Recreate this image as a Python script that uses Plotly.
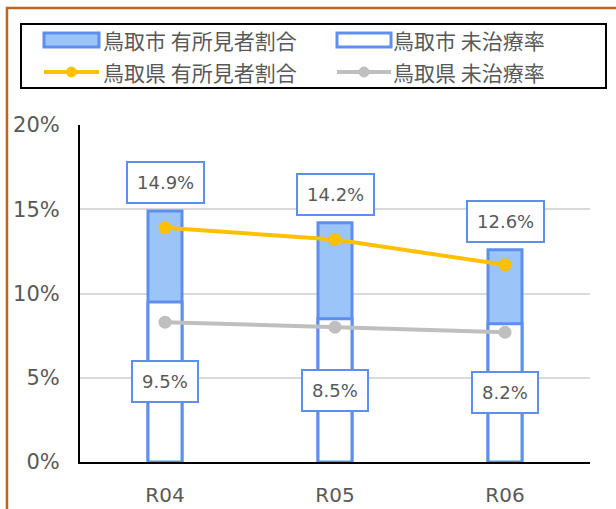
import plotly.graph_objects as go

# Data
years = ["R04", "R05", "R06"]
city_finding_rate = [14.9, 14.2, 12.6]      # 鳥取市 有所見者割合
city_untreated_rate = [9.5, 8.5, 8.2]       # 鳥取市 未治療率
pref_finding_rate = [13.9, 13.2, 11.7]      # 鳥取県 有所見者割合
pref_untreated_rate = [8.3, 8.0, 7.7]       # 鳥取県 未治療率
y_ticks = [0, 5, 10, 15, 20]
y_tick_labels = ["0%", "5%", "10%", "15%", "20%"]

legend_names = ["鳥取市 有所見者割合", "鳥取市 未治療率", "鳥取県 有所見者割合", "鳥取県 未治療率"]

FONT_JP = "Noto Sans CJK JP, Meiryo, sans-serif"
FONT_NUM = "DejaVu Sans, Verdana, sans-serif"
BLUE_EDGE = "#5E8FEE"
BLUE_FILL = "#9BC4F8"
ORANGE = "#FFC000"
GRAY = "#BFBFBF"
TEXT = "#595959"

W, H = 616, 509
L, R, T, B = 80, 26, 125, 47
PW, PH = W - L - R, H - T - B


def px(x):
    return (x - L) / PW


def py(y):
    return (H - B - y) / PH


fig = go.Figure()

fig.add_trace(go.Bar(
    x=years, y=city_finding_rate, name=legend_names[0], width=0.2,
    marker=dict(color=BLUE_FILL, line=dict(color=BLUE_EDGE, width=3)),
    showlegend=False, hoverinfo="skip",
))
fig.add_trace(go.Bar(
    x=years, y=city_untreated_rate, name=legend_names[1], width=0.2,
    marker=dict(color="white", line=dict(color=BLUE_EDGE, width=3)),
    showlegend=False, hoverinfo="skip",
))
fig.add_trace(go.Scatter(
    x=years, y=pref_finding_rate, name=legend_names[2], mode="lines+markers",
    line=dict(color=ORANGE, width=4), marker=dict(color=ORANGE, size=13),
    showlegend=False, hoverinfo="skip",
))
fig.add_trace(go.Scatter(
    x=years, y=pref_untreated_rate, name=legend_names[3], mode="lines+markers",
    line=dict(color=GRAY, width=4), marker=dict(color=GRAY, size=13),
    showlegend=False, hoverinfo="skip",
))

annotations = []
box_style = dict(
    showarrow=False, xref="x", yref="y",
    font=dict(family=FONT_NUM, size=18, color=TEXT),
    bgcolor="white", bordercolor=BLUE_EDGE, borderwidth=2, borderpad=9,
)
# value boxes above the filled bars
for yr, v in zip(years, city_finding_rate):
    annotations.append(dict(x=yr, y=v, text=f"{v:.1f}%",
                            yanchor="bottom", yshift=7, **box_style))
# value boxes centred in the untreated bars
for yr, v in zip(years, city_untreated_rate):
    annotations.append(dict(x=yr, y=v / 2, text=f"{v:.1f}%",
                            yanchor="middle", **box_style))

shapes = []
# outer frame
shapes.append(dict(type="rect", xref="paper", yref="paper",
                   x0=px(7), x1=px(W + 20), y0=py(8), y1=py(H + 20),
                   line=dict(color="#C0651E", width=2.5), layer="below"))
# legend box
shapes.append(dict(type="rect", xref="paper", yref="paper",
                   x0=px(21), x1=px(606), y0=py(24), y1=py(88),
                   line=dict(color="black", width=2), fillcolor="white"))

legend_rows = [40, 72]
legend_cols = [(44, 99, 101), (337, 391, 391)]
# bar symbols
for (x0, x1, xt), fill in zip(legend_cols, [BLUE_FILL, "white"]):
    yc = legend_rows[0]
    shapes.append(dict(type="rect", xref="paper", yref="paper",
                       x0=px(x0), x1=px(x1), y0=py(yc - 7), y1=py(yc + 7),
                       fillcolor=fill, line=dict(color=BLUE_EDGE, width=3)))
# line symbols
for (x0, x1, xt), col in zip(legend_cols, [ORANGE, GRAY]):
    yc = legend_rows[1]
    shapes.append(dict(type="line", xref="paper", yref="paper",
                       x0=px(x0), x1=px(x1), y0=py(yc), y1=py(yc),
                       line=dict(color=col, width=4)))
    xm = (x0 + x1) / 2
    shapes.append(dict(type="circle", xref="paper", yref="paper",
                       x0=px(xm - 5), x1=px(xm + 5), y0=py(yc - 5), y1=py(yc + 5),
                       fillcolor=col, line=dict(color=col, width=1)))

for i, name in enumerate(legend_names):
    row = i // 2
    col = i % 2
    annotations.append(dict(
        x=px(legend_cols[col][2]), y=py(legend_rows[row]), xref="paper", yref="paper",
        text=name, showarrow=False, xanchor="left", yanchor="middle",
        font=dict(family=FONT_JP, size=21, color=TEXT),
    ))

fig.update_layout(
    width=W, height=H,
    margin=dict(l=L, r=R, t=T, b=B, pad=0, autoexpand=False),
    barmode="overlay",
    paper_bgcolor="white", plot_bgcolor="white",
    font=dict(family=FONT_JP, color=TEXT),
    annotations=annotations, shapes=shapes,
    showlegend=False,
)
fig.update_xaxes(
    type="category", range=[-0.5, 2.5], automargin=False,
    showline=True, linecolor="black", linewidth=2,
    showgrid=False, ticks="", ticklabelstandoff=14,
    tickfont=dict(family=FONT_NUM, size=20, color=TEXT),
)
fig.update_yaxes(
    range=[0, 20], tickvals=y_ticks, ticktext=y_tick_labels, automargin=False,
    showline=True, linecolor="black", linewidth=2,
    showgrid=True, gridcolor="#D9D9D9", gridwidth=1.5,
    ticks="", ticklabelstandoff=14, zeroline=False,
    tickfont=dict(family=FONT_NUM, size=21, color=TEXT),
)

fig.write_html("out.html")
